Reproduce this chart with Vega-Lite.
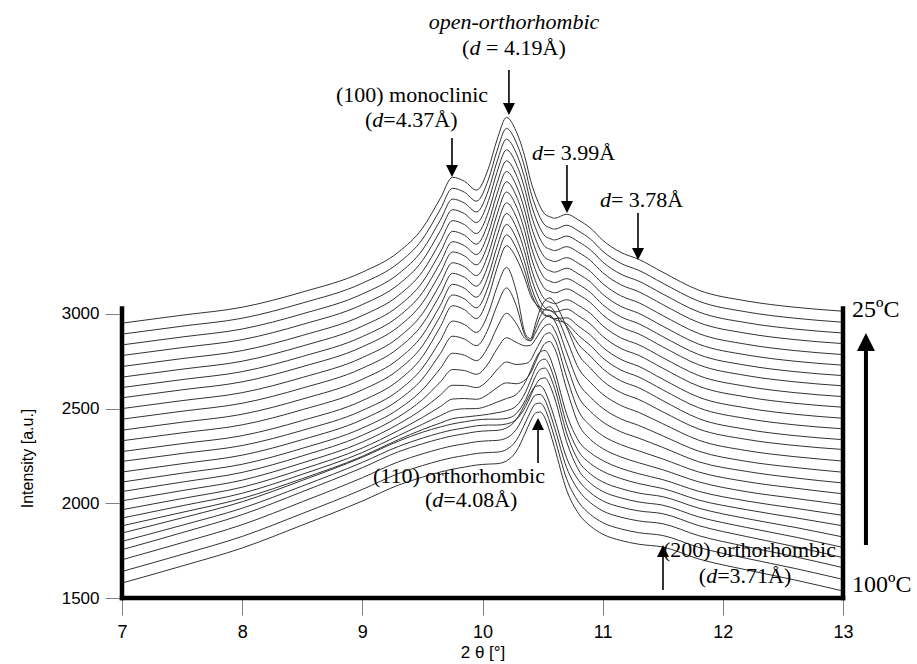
{
"$schema":"https://vega.github.io/schema/vega-lite/v6.json",
"width":721,"height":598,"autosize":"none",
"padding":{"left":122,"top":0,"right":74,"bottom":66},
"config":{"view":{"stroke":null},"font":"Liberation Serif"},
"datasets":{"curves":[
{"k":26,"x":7,"y":2951},{"k":26,"x":7.5,"y":2993},{"k":26,"x":8,"y":3035},{"k":26,"x":8.5,"y":3115},{"k":26,"x":9,"y":3220},{"k":26,"x":9.3,"y":3326},{"k":26,"x":9.5,"y":3452},{"k":26,"x":9.65,"y":3611},{"k":26,"x":9.75,"y":3721},{"k":26,"x":9.85,"y":3700},{"k":26,"x":9.95,"y":3653},{"k":26,"x":10.05,"y":3769},{"k":26,"x":10.12,"y":3917},{"k":26,"x":10.2,"y":4037},{"k":26,"x":10.28,"y":3964},{"k":26,"x":10.36,"y":3811},{"k":26,"x":10.4,"y":3705},{"k":26,"x":10.44,"y":3627},{"k":26,"x":10.48,"y":3566},{"k":26,"x":10.52,"y":3526},{"k":26,"x":10.56,"y":3513},{"k":26,"x":10.6,"y":3505},{"k":26,"x":10.7,"y":3526},{"k":26,"x":10.8,"y":3495},{"k":26,"x":10.9,"y":3452},{"k":26,"x":11,"y":3389},{"k":26,"x":11.15,"y":3325},{"k":26,"x":11.3,"y":3288},{"k":26,"x":11.5,"y":3220},{"k":26,"x":11.8,"y":3125},{"k":26,"x":12.2,"y":3068},{"k":26,"x":12.6,"y":3035},{"k":26,"x":13,"y":3014},
{"k":25,"x":7,"y":2893},{"k":25,"x":7.5,"y":2935},{"k":25,"x":8,"y":2977},{"k":25,"x":8.5,"y":3057},{"k":25,"x":9,"y":3162},{"k":25,"x":9.3,"y":3268},{"k":25,"x":9.5,"y":3394},{"k":25,"x":9.65,"y":3553},{"k":25,"x":9.75,"y":3663},{"k":25,"x":9.85,"y":3642},{"k":25,"x":9.95,"y":3595},{"k":25,"x":10.05,"y":3711},{"k":25,"x":10.12,"y":3859},{"k":25,"x":10.2,"y":3979},{"k":25,"x":10.28,"y":3906},{"k":25,"x":10.36,"y":3753},{"k":25,"x":10.4,"y":3647},{"k":25,"x":10.44,"y":3569},{"k":25,"x":10.48,"y":3508},{"k":25,"x":10.52,"y":3468},{"k":25,"x":10.56,"y":3455},{"k":25,"x":10.6,"y":3447},{"k":25,"x":10.7,"y":3468},{"k":25,"x":10.8,"y":3437},{"k":25,"x":10.9,"y":3394},{"k":25,"x":11,"y":3331},{"k":25,"x":11.15,"y":3267},{"k":25,"x":11.3,"y":3230},{"k":25,"x":11.5,"y":3162},{"k":25,"x":11.8,"y":3067},{"k":25,"x":12.2,"y":3010},{"k":25,"x":12.6,"y":2977},{"k":25,"x":13,"y":2956},
{"k":24,"x":7,"y":2836},{"k":24,"x":7.5,"y":2878},{"k":24,"x":8,"y":2920},{"k":24,"x":8.5,"y":3000},{"k":24,"x":9,"y":3105},{"k":24,"x":9.3,"y":3211},{"k":24,"x":9.5,"y":3337},{"k":24,"x":9.65,"y":3496},{"k":24,"x":9.75,"y":3606},{"k":24,"x":9.85,"y":3585},{"k":24,"x":9.95,"y":3538},{"k":24,"x":10.05,"y":3654},{"k":24,"x":10.12,"y":3802},{"k":24,"x":10.2,"y":3922},{"k":24,"x":10.28,"y":3849},{"k":24,"x":10.36,"y":3696},{"k":24,"x":10.4,"y":3590},{"k":24,"x":10.44,"y":3512},{"k":24,"x":10.48,"y":3451},{"k":24,"x":10.52,"y":3411},{"k":24,"x":10.56,"y":3398},{"k":24,"x":10.6,"y":3390},{"k":24,"x":10.7,"y":3411},{"k":24,"x":10.8,"y":3380},{"k":24,"x":10.9,"y":3337},{"k":24,"x":11,"y":3274},{"k":24,"x":11.15,"y":3210},{"k":24,"x":11.3,"y":3173},{"k":24,"x":11.5,"y":3105},{"k":24,"x":11.8,"y":3010},{"k":24,"x":12.2,"y":2953},{"k":24,"x":12.6,"y":2920},{"k":24,"x":13,"y":2899},
{"k":23,"x":7,"y":2780},{"k":23,"x":7.5,"y":2822},{"k":23,"x":8,"y":2864},{"k":23,"x":8.5,"y":2944},{"k":23,"x":9,"y":3049},{"k":23,"x":9.3,"y":3155},{"k":23,"x":9.5,"y":3281},{"k":23,"x":9.65,"y":3440},{"k":23,"x":9.75,"y":3550},{"k":23,"x":9.85,"y":3529},{"k":23,"x":9.95,"y":3482},{"k":23,"x":10.05,"y":3598},{"k":23,"x":10.12,"y":3746},{"k":23,"x":10.2,"y":3866},{"k":23,"x":10.28,"y":3793},{"k":23,"x":10.36,"y":3640},{"k":23,"x":10.4,"y":3534},{"k":23,"x":10.44,"y":3456},{"k":23,"x":10.48,"y":3395},{"k":23,"x":10.52,"y":3355},{"k":23,"x":10.56,"y":3342},{"k":23,"x":10.6,"y":3334},{"k":23,"x":10.7,"y":3355},{"k":23,"x":10.8,"y":3324},{"k":23,"x":10.9,"y":3281},{"k":23,"x":11,"y":3218},{"k":23,"x":11.15,"y":3154},{"k":23,"x":11.3,"y":3117},{"k":23,"x":11.5,"y":3049},{"k":23,"x":11.8,"y":2954},{"k":23,"x":12.2,"y":2897},{"k":23,"x":12.6,"y":2864},{"k":23,"x":13,"y":2843},
{"k":22,"x":7,"y":2722},{"k":22,"x":7.5,"y":2764},{"k":22,"x":8,"y":2806},{"k":22,"x":8.5,"y":2886},{"k":22,"x":9,"y":2991},{"k":22,"x":9.3,"y":3097},{"k":22,"x":9.5,"y":3223},{"k":22,"x":9.65,"y":3382},{"k":22,"x":9.75,"y":3492},{"k":22,"x":9.85,"y":3471},{"k":22,"x":9.95,"y":3424},{"k":22,"x":10.05,"y":3540},{"k":22,"x":10.12,"y":3688},{"k":22,"x":10.2,"y":3808},{"k":22,"x":10.28,"y":3735},{"k":22,"x":10.36,"y":3582},{"k":22,"x":10.4,"y":3476},{"k":22,"x":10.44,"y":3398},{"k":22,"x":10.48,"y":3337},{"k":22,"x":10.52,"y":3297},{"k":22,"x":10.56,"y":3284},{"k":22,"x":10.6,"y":3276},{"k":22,"x":10.7,"y":3297},{"k":22,"x":10.8,"y":3266},{"k":22,"x":10.9,"y":3223},{"k":22,"x":11,"y":3160},{"k":22,"x":11.15,"y":3096},{"k":22,"x":11.3,"y":3059},{"k":22,"x":11.5,"y":2991},{"k":22,"x":11.8,"y":2896},{"k":22,"x":12.2,"y":2839},{"k":22,"x":12.6,"y":2806},{"k":22,"x":13,"y":2785},
{"k":21,"x":7,"y":2666},{"k":21,"x":7.5,"y":2708},{"k":21,"x":8,"y":2750},{"k":21,"x":8.5,"y":2830},{"k":21,"x":9,"y":2935},{"k":21,"x":9.3,"y":3041},{"k":21,"x":9.5,"y":3167},{"k":21,"x":9.65,"y":3326},{"k":21,"x":9.75,"y":3436},{"k":21,"x":9.85,"y":3415},{"k":21,"x":9.95,"y":3368},{"k":21,"x":10.05,"y":3484},{"k":21,"x":10.12,"y":3632},{"k":21,"x":10.2,"y":3752},{"k":21,"x":10.28,"y":3679},{"k":21,"x":10.36,"y":3526},{"k":21,"x":10.4,"y":3420},{"k":21,"x":10.44,"y":3342},{"k":21,"x":10.48,"y":3281},{"k":21,"x":10.52,"y":3241},{"k":21,"x":10.56,"y":3228},{"k":21,"x":10.6,"y":3220},{"k":21,"x":10.7,"y":3241},{"k":21,"x":10.8,"y":3210},{"k":21,"x":10.9,"y":3167},{"k":21,"x":11,"y":3104},{"k":21,"x":11.15,"y":3040},{"k":21,"x":11.3,"y":3003},{"k":21,"x":11.5,"y":2935},{"k":21,"x":11.8,"y":2840},{"k":21,"x":12.2,"y":2783},{"k":21,"x":12.6,"y":2750},{"k":21,"x":13,"y":2729},
{"k":20,"x":7,"y":2611},{"k":20,"x":7.5,"y":2653},{"k":20,"x":8,"y":2695},{"k":20,"x":8.5,"y":2775},{"k":20,"x":9,"y":2880},{"k":20,"x":9.3,"y":2986},{"k":20,"x":9.5,"y":3112},{"k":20,"x":9.65,"y":3271},{"k":20,"x":9.75,"y":3381},{"k":20,"x":9.85,"y":3360},{"k":20,"x":9.95,"y":3313},{"k":20,"x":10.05,"y":3429},{"k":20,"x":10.12,"y":3577},{"k":20,"x":10.2,"y":3697},{"k":20,"x":10.28,"y":3624},{"k":20,"x":10.36,"y":3471},{"k":20,"x":10.4,"y":3365},{"k":20,"x":10.44,"y":3287},{"k":20,"x":10.48,"y":3226},{"k":20,"x":10.52,"y":3186},{"k":20,"x":10.56,"y":3173},{"k":20,"x":10.6,"y":3165},{"k":20,"x":10.7,"y":3186},{"k":20,"x":10.8,"y":3155},{"k":20,"x":10.9,"y":3112},{"k":20,"x":11,"y":3049},{"k":20,"x":11.15,"y":2985},{"k":20,"x":11.3,"y":2948},{"k":20,"x":11.5,"y":2880},{"k":20,"x":11.8,"y":2785},{"k":20,"x":12.2,"y":2728},{"k":20,"x":12.6,"y":2695},{"k":20,"x":13,"y":2674},
{"k":19,"x":7,"y":2557},{"k":19,"x":7.5,"y":2599},{"k":19,"x":8,"y":2641},{"k":19,"x":8.5,"y":2721},{"k":19,"x":9,"y":2826},{"k":19,"x":9.3,"y":2932},{"k":19,"x":9.5,"y":3058},{"k":19,"x":9.65,"y":3217},{"k":19,"x":9.75,"y":3327},{"k":19,"x":9.85,"y":3306},{"k":19,"x":9.95,"y":3259},{"k":19,"x":10.05,"y":3375},{"k":19,"x":10.12,"y":3523},{"k":19,"x":10.2,"y":3643},{"k":19,"x":10.28,"y":3570},{"k":19,"x":10.36,"y":3417},{"k":19,"x":10.4,"y":3311},{"k":19,"x":10.44,"y":3233},{"k":19,"x":10.48,"y":3172},{"k":19,"x":10.52,"y":3132},{"k":19,"x":10.56,"y":3119},{"k":19,"x":10.6,"y":3111},{"k":19,"x":10.7,"y":3132},{"k":19,"x":10.8,"y":3101},{"k":19,"x":10.9,"y":3058},{"k":19,"x":11,"y":2995},{"k":19,"x":11.15,"y":2931},{"k":19,"x":11.3,"y":2894},{"k":19,"x":11.5,"y":2826},{"k":19,"x":11.8,"y":2731},{"k":19,"x":12.2,"y":2674},{"k":19,"x":12.6,"y":2641},{"k":19,"x":13,"y":2620},
{"k":18,"x":7,"y":2500},{"k":18,"x":7.5,"y":2542},{"k":18,"x":8,"y":2584},{"k":18,"x":8.5,"y":2664},{"k":18,"x":9,"y":2769},{"k":18,"x":9.3,"y":2875},{"k":18,"x":9.5,"y":3001},{"k":18,"x":9.65,"y":3160},{"k":18,"x":9.75,"y":3270},{"k":18,"x":9.85,"y":3249},{"k":18,"x":9.95,"y":3202},{"k":18,"x":10.05,"y":3318},{"k":18,"x":10.12,"y":3466},{"k":18,"x":10.2,"y":3586},{"k":18,"x":10.28,"y":3513},{"k":18,"x":10.36,"y":3360},{"k":18,"x":10.4,"y":3254},{"k":18,"x":10.44,"y":3176},{"k":18,"x":10.48,"y":3115},{"k":18,"x":10.52,"y":3075},{"k":18,"x":10.56,"y":3062},{"k":18,"x":10.6,"y":3054},{"k":18,"x":10.7,"y":3075},{"k":18,"x":10.8,"y":3044},{"k":18,"x":10.9,"y":3001},{"k":18,"x":11,"y":2938},{"k":18,"x":11.15,"y":2874},{"k":18,"x":11.3,"y":2837},{"k":18,"x":11.5,"y":2769},{"k":18,"x":11.8,"y":2674},{"k":18,"x":12.2,"y":2617},{"k":18,"x":12.6,"y":2584},{"k":18,"x":13,"y":2563},
{"k":17,"x":7,"y":2444},{"k":17,"x":7.5,"y":2486},{"k":17,"x":8,"y":2528},{"k":17,"x":8.5,"y":2608},{"k":17,"x":9,"y":2713},{"k":17,"x":9.3,"y":2819},{"k":17,"x":9.5,"y":2945},{"k":17,"x":9.65,"y":3104},{"k":17,"x":9.75,"y":3214},{"k":17,"x":9.85,"y":3193},{"k":17,"x":9.95,"y":3146},{"k":17,"x":10.05,"y":3262},{"k":17,"x":10.12,"y":3410},{"k":17,"x":10.2,"y":3530},{"k":17,"x":10.28,"y":3458},{"k":17,"x":10.36,"y":3307},{"k":17,"x":10.4,"y":3203},{"k":17,"x":10.44,"y":3127},{"k":17,"x":10.48,"y":3069},{"k":17,"x":10.52,"y":3031},{"k":17,"x":10.56,"y":3018},{"k":17,"x":10.6,"y":3010},{"k":17,"x":10.7,"y":3025},{"k":17,"x":10.8,"y":2989},{"k":17,"x":10.9,"y":2945},{"k":17,"x":11,"y":2882},{"k":17,"x":11.15,"y":2818},{"k":17,"x":11.3,"y":2781},{"k":17,"x":11.5,"y":2713},{"k":17,"x":11.8,"y":2618},{"k":17,"x":12.2,"y":2561},{"k":17,"x":12.6,"y":2528},{"k":17,"x":13,"y":2507},
{"k":16,"x":7,"y":2386},{"k":16,"x":7.5,"y":2428},{"k":16,"x":8,"y":2470},{"k":16,"x":8.5,"y":2550},{"k":16,"x":9,"y":2655},{"k":16,"x":9.3,"y":2761},{"k":16,"x":9.5,"y":2887},{"k":16,"x":9.65,"y":3046},{"k":16,"x":9.75,"y":3156},{"k":16,"x":9.85,"y":3135},{"k":16,"x":9.95,"y":3088},{"k":16,"x":10.05,"y":3204},{"k":16,"x":10.12,"y":3352},{"k":16,"x":10.2,"y":3472},{"k":16,"x":10.28,"y":3401},{"k":16,"x":10.36,"y":3254},{"k":16,"x":10.4,"y":3154},{"k":16,"x":10.44,"y":3083},{"k":16,"x":10.48,"y":3030},{"k":16,"x":10.52,"y":2996},{"k":16,"x":10.56,"y":2985},{"k":16,"x":10.6,"y":2975},{"k":16,"x":10.7,"y":2979},{"k":16,"x":10.8,"y":2934},{"k":16,"x":10.9,"y":2887},{"k":16,"x":11,"y":2824},{"k":16,"x":11.15,"y":2760},{"k":16,"x":11.3,"y":2723},{"k":16,"x":11.5,"y":2655},{"k":16,"x":11.8,"y":2560},{"k":16,"x":12.2,"y":2503},{"k":16,"x":12.6,"y":2470},{"k":16,"x":13,"y":2449},
{"k":15,"x":7,"y":2330},{"k":15,"x":7.5,"y":2372},{"k":15,"x":8,"y":2414},{"k":15,"x":8.5,"y":2494},{"k":15,"x":9,"y":2599},{"k":15,"x":9.3,"y":2705},{"k":15,"x":9.5,"y":2831},{"k":15,"x":9.65,"y":2990},{"k":15,"x":9.75,"y":3100},{"k":15,"x":9.85,"y":3079},{"k":15,"x":9.95,"y":3032},{"k":15,"x":10.05,"y":3148},{"k":15,"x":10.12,"y":3296},{"k":15,"x":10.2,"y":3417},{"k":15,"x":10.28,"y":3348},{"k":15,"x":10.36,"y":3210},{"k":15,"x":10.4,"y":3119},{"k":15,"x":10.44,"y":3059},{"k":15,"x":10.48,"y":3017},{"k":15,"x":10.52,"y":2991},{"k":15,"x":10.56,"y":2984},{"k":15,"x":10.6,"y":2970},{"k":15,"x":10.7,"y":2949},{"k":15,"x":10.8,"y":2885},{"k":15,"x":10.9,"y":2832},{"k":15,"x":11,"y":2768},{"k":15,"x":11.15,"y":2704},{"k":15,"x":11.3,"y":2667},{"k":15,"x":11.5,"y":2599},{"k":15,"x":11.8,"y":2504},{"k":15,"x":12.2,"y":2447},{"k":15,"x":12.6,"y":2414},{"k":15,"x":13,"y":2393},
{"k":14,"x":7,"y":2273},{"k":14,"x":7.5,"y":2315},{"k":14,"x":8,"y":2357},{"k":14,"x":8.5,"y":2437},{"k":14,"x":9,"y":2542},{"k":14,"x":9.3,"y":2648},{"k":14,"x":9.5,"y":2774},{"k":14,"x":9.65,"y":2933},{"k":14,"x":9.75,"y":3043},{"k":14,"x":9.85,"y":3022},{"k":14,"x":9.95,"y":2975},{"k":14,"x":10.05,"y":3091},{"k":14,"x":10.12,"y":3239},{"k":14,"x":10.2,"y":3360},{"k":14,"x":10.28,"y":3296},{"k":14,"x":10.36,"y":3174},{"k":14,"x":10.4,"y":3097},{"k":14,"x":10.44,"y":3056},{"k":14,"x":10.48,"y":3032},{"k":14,"x":10.52,"y":3021},{"k":14,"x":10.56,"y":3019},{"k":14,"x":10.6,"y":3000},{"k":14,"x":10.7,"y":2936},{"k":14,"x":10.8,"y":2838},{"k":14,"x":10.9,"y":2776},{"k":14,"x":11,"y":2711},{"k":14,"x":11.15,"y":2647},{"k":14,"x":11.3,"y":2610},{"k":14,"x":11.5,"y":2542},{"k":14,"x":11.8,"y":2447},{"k":14,"x":12.2,"y":2390},{"k":14,"x":12.6,"y":2357},{"k":14,"x":13,"y":2336},
{"k":13,"x":7,"y":2221},{"k":13,"x":7.5,"y":2263},{"k":13,"x":8,"y":2305},{"k":13,"x":8.5,"y":2385},{"k":13,"x":9,"y":2490},{"k":13,"x":9.3,"y":2594},{"k":13,"x":9.5,"y":2714},{"k":13,"x":9.65,"y":2860},{"k":13,"x":9.75,"y":2962},{"k":13,"x":9.85,"y":2944},{"k":13,"x":9.95,"y":2902},{"k":13,"x":10.05,"y":3006},{"k":13,"x":10.12,"y":3140},{"k":13,"x":10.2,"y":3245},{"k":13,"x":10.28,"y":3123},{"k":13,"x":10.36,"y":2890},{"k":13,"x":10.4,"y":2869},{"k":13,"x":10.44,"y":2946},{"k":13,"x":10.48,"y":3025},{"k":13,"x":10.52,"y":3070},{"k":13,"x":10.56,"y":3084},{"k":13,"x":10.6,"y":3060},{"k":13,"x":10.7,"y":2930},{"k":13,"x":10.8,"y":2785},{"k":13,"x":10.9,"y":2712},{"k":13,"x":11,"y":2647},{"k":13,"x":11.15,"y":2585},{"k":13,"x":11.3,"y":2548},{"k":13,"x":11.5,"y":2483},{"k":13,"x":11.8,"y":2392},{"k":13,"x":12.2,"y":2337},{"k":13,"x":12.6,"y":2305},{"k":13,"x":13,"y":2284},
{"k":12,"x":7,"y":2165},{"k":12,"x":7.5,"y":2209},{"k":12,"x":8,"y":2254},{"k":12,"x":8.5,"y":2336},{"k":12,"x":9,"y":2442},{"k":12,"x":9.3,"y":2545},{"k":12,"x":9.5,"y":2657},{"k":12,"x":9.65,"y":2791},{"k":12,"x":9.75,"y":2882},{"k":12,"x":9.85,"y":2867},{"k":12,"x":9.95,"y":2832},{"k":12,"x":10.05,"y":2925},{"k":12,"x":10.12,"y":3043},{"k":12,"x":10.2,"y":3137},{"k":12,"x":10.28,"y":3045},{"k":12,"x":10.36,"y":2878},{"k":12,"x":10.4,"y":2860},{"k":12,"x":10.44,"y":2921},{"k":12,"x":10.48,"y":2985},{"k":12,"x":10.52,"y":3025},{"k":12,"x":10.56,"y":3038},{"k":12,"x":10.6,"y":3010},{"k":12,"x":10.7,"y":2865},{"k":12,"x":10.8,"y":2712},{"k":12,"x":10.9,"y":2637},{"k":12,"x":11,"y":2576},{"k":12,"x":11.15,"y":2517},{"k":12,"x":11.3,"y":2480},{"k":12,"x":11.5,"y":2420},{"k":12,"x":11.8,"y":2333},{"k":12,"x":12.2,"y":2278},{"k":12,"x":12.6,"y":2246},{"k":12,"x":13,"y":2223},
{"k":11,"x":7,"y":2112},{"k":11,"x":7.5,"y":2159},{"k":11,"x":8,"y":2206},{"k":11,"x":8.5,"y":2290},{"k":11,"x":9,"y":2397},{"k":11,"x":9.3,"y":2497},{"k":11,"x":9.5,"y":2599},{"k":11,"x":9.65,"y":2713},{"k":11,"x":9.75,"y":2792},{"k":11,"x":9.85,"y":2782},{"k":11,"x":9.95,"y":2753},{"k":11,"x":10.05,"y":2830},{"k":11,"x":10.12,"y":2926},{"k":11,"x":10.2,"y":3003},{"k":11,"x":10.28,"y":2950},{"k":11,"x":10.36,"y":2866},{"k":11,"x":10.4,"y":2858},{"k":11,"x":10.44,"y":2898},{"k":11,"x":10.48,"y":2948},{"k":11,"x":10.52,"y":2981},{"k":11,"x":10.56,"y":2993},{"k":11,"x":10.6,"y":2963},{"k":11,"x":10.7,"y":2798},{"k":11,"x":10.8,"y":2635},{"k":11,"x":10.9,"y":2559},{"k":11,"x":11,"y":2502},{"k":11,"x":11.15,"y":2446},{"k":11,"x":11.3,"y":2411},{"k":11,"x":11.5,"y":2356},{"k":11,"x":11.8,"y":2275},{"k":11,"x":12.2,"y":2221},{"k":11,"x":12.6,"y":2189},{"k":11,"x":13,"y":2164},
{"k":10,"x":7,"y":2062},{"k":10,"x":7.5,"y":2112},{"k":10,"x":8,"y":2163},{"k":10,"x":8.5,"y":2250},{"k":10,"x":9,"y":2359},{"k":10,"x":9.3,"y":2456},{"k":10,"x":9.5,"y":2547},{"k":10,"x":9.65,"y":2641},{"k":10,"x":9.75,"y":2706},{"k":10,"x":9.85,"y":2701},{"k":10,"x":9.95,"y":2681},{"k":10,"x":10.05,"y":2740},{"k":10,"x":10.12,"y":2814},{"k":10,"x":10.2,"y":2874},{"k":10,"x":10.28,"y":2850},{"k":10,"x":10.36,"y":2831},{"k":10,"x":10.4,"y":2834},{"k":10,"x":10.44,"y":2865},{"k":10,"x":10.48,"y":2905},{"k":10,"x":10.52,"y":2937},{"k":10,"x":10.56,"y":2946},{"k":10,"x":10.6,"y":2914},{"k":10,"x":10.7,"y":2733},{"k":10,"x":10.8,"y":2561},{"k":10,"x":10.9,"y":2484},{"k":10,"x":11,"y":2430},{"k":10,"x":11.15,"y":2378},{"k":10,"x":11.3,"y":2344},{"k":10,"x":11.5,"y":2295},{"k":10,"x":11.8,"y":2219},{"k":10,"x":12.2,"y":2168},{"k":10,"x":12.6,"y":2134},{"k":10,"x":13,"y":2107},
{"k":9,"x":7,"y":2013},{"k":9,"x":7.5,"y":2067},{"k":9,"x":8,"y":2122},{"k":9,"x":8.5,"y":2213},{"k":9,"x":9,"y":2323},{"k":9,"x":9.3,"y":2418},{"k":9,"x":9.5,"y":2497},{"k":9,"x":9.65,"y":2572},{"k":9,"x":9.75,"y":2623},{"k":9,"x":9.85,"y":2622},{"k":9,"x":9.95,"y":2611},{"k":9,"x":10.05,"y":2652},{"k":9,"x":10.12,"y":2704},{"k":9,"x":10.2,"y":2746},{"k":9,"x":10.28,"y":2733},{"k":9,"x":10.36,"y":2738},{"k":9,"x":10.4,"y":2755},{"k":9,"x":10.44,"y":2803},{"k":9,"x":10.48,"y":2851},{"k":9,"x":10.52,"y":2891},{"k":9,"x":10.56,"y":2900},{"k":9,"x":10.6,"y":2867},{"k":9,"x":10.7,"y":2667},{"k":9,"x":10.8,"y":2487},{"k":9,"x":10.9,"y":2408},{"k":9,"x":11,"y":2357},{"k":9,"x":11.15,"y":2310},{"k":9,"x":11.3,"y":2277},{"k":9,"x":11.5,"y":2234},{"k":9,"x":11.8,"y":2165},{"k":9,"x":12.2,"y":2114},{"k":9,"x":12.6,"y":2080},{"k":9,"x":13,"y":2050},
{"k":8,"x":7,"y":1966},{"k":8,"x":7.5,"y":2025},{"k":8,"x":8,"y":2085},{"k":8,"x":8.5,"y":2180},{"k":8,"x":9,"y":2292},{"k":8,"x":9.3,"y":2384},{"k":8,"x":9.5,"y":2453},{"k":8,"x":9.65,"y":2511},{"k":8,"x":9.75,"y":2550},{"k":8,"x":9.85,"y":2553},{"k":8,"x":9.95,"y":2549},{"k":8,"x":10.05,"y":2577},{"k":8,"x":10.12,"y":2610},{"k":8,"x":10.2,"y":2636},{"k":8,"x":10.28,"y":2631},{"k":8,"x":10.36,"y":2655},{"k":8,"x":10.4,"y":2688},{"k":8,"x":10.44,"y":2744},{"k":8,"x":10.48,"y":2801},{"k":8,"x":10.52,"y":2844},{"k":8,"x":10.56,"y":2854},{"k":8,"x":10.6,"y":2818},{"k":8,"x":10.7,"y":2604},{"k":8,"x":10.8,"y":2417},{"k":8,"x":10.9,"y":2336},{"k":8,"x":11,"y":2289},{"k":8,"x":11.15,"y":2245},{"k":8,"x":11.3,"y":2214},{"k":8,"x":11.5,"y":2177},{"k":8,"x":11.8,"y":2113},{"k":8,"x":12.2,"y":2061},{"k":8,"x":12.6,"y":2026},{"k":8,"x":13,"y":1992},
{"k":7,"x":7,"y":1922},{"k":7,"x":7.5,"y":1987},{"k":7,"x":8,"y":2053},{"k":7,"x":8.5,"y":2153},{"k":7,"x":9,"y":2268},{"k":7,"x":9.3,"y":2357},{"k":7,"x":9.5,"y":2417},{"k":7,"x":9.65,"y":2463},{"k":7,"x":9.75,"y":2491},{"k":7,"x":9.85,"y":2499},{"k":7,"x":9.95,"y":2500},{"k":7,"x":10.05,"y":2516},{"k":7,"x":10.12,"y":2534},{"k":7,"x":10.2,"y":2553},{"k":7,"x":10.28,"y":2574},{"k":7,"x":10.36,"y":2644},{"k":7,"x":10.4,"y":2699},{"k":7,"x":10.44,"y":2759},{"k":7,"x":10.48,"y":2799},{"k":7,"x":10.52,"y":2807},{"k":7,"x":10.56,"y":2771},{"k":7,"x":10.6,"y":2699},{"k":7,"x":10.7,"y":2471},{"k":7,"x":10.8,"y":2329},{"k":7,"x":10.9,"y":2266},{"k":7,"x":11,"y":2226},{"k":7,"x":11.15,"y":2185},{"k":7,"x":11.3,"y":2156},{"k":7,"x":11.5,"y":2125},{"k":7,"x":11.8,"y":2063},{"k":7,"x":12.2,"y":2012},{"k":7,"x":12.6,"y":1974},{"k":7,"x":13,"y":1936},
{"k":6,"x":7,"y":1881},{"k":6,"x":7.5,"y":1952},{"k":6,"x":8,"y":2026},{"k":6,"x":8.5,"y":2130},{"k":6,"x":9,"y":2248},{"k":6,"x":9.3,"y":2336},{"k":6,"x":9.5,"y":2389},{"k":6,"x":9.65,"y":2424},{"k":6,"x":9.75,"y":2447},{"k":6,"x":9.85,"y":2455},{"k":6,"x":9.95,"y":2462},{"k":6,"x":10.05,"y":2470},{"k":6,"x":10.12,"y":2478},{"k":6,"x":10.2,"y":2489},{"k":6,"x":10.28,"y":2513},{"k":6,"x":10.36,"y":2589},{"k":6,"x":10.4,"y":2649},{"k":6,"x":10.44,"y":2710},{"k":6,"x":10.48,"y":2752},{"k":6,"x":10.52,"y":2761},{"k":6,"x":10.56,"y":2724},{"k":6,"x":10.6,"y":2653},{"k":6,"x":10.7,"y":2419},{"k":6,"x":10.8,"y":2274},{"k":6,"x":10.9,"y":2209},{"k":6,"x":11,"y":2169},{"k":6,"x":11.15,"y":2131},{"k":6,"x":11.3,"y":2104},{"k":6,"x":11.5,"y":2078},{"k":6,"x":11.8,"y":2017},{"k":6,"x":12.2,"y":1966},{"k":6,"x":12.6,"y":1924},{"k":6,"x":13,"y":1881},
{"k":5,"x":7,"y":1843},{"k":5,"x":7.5,"y":1923},{"k":5,"x":8,"y":2008},{"k":5,"x":8.5,"y":2121},{"k":5,"x":9,"y":2243},{"k":5,"x":9.3,"y":2328},{"k":5,"x":9.5,"y":2375},{"k":5,"x":9.65,"y":2403},{"k":5,"x":9.75,"y":2419},{"k":5,"x":9.85,"y":2430},{"k":5,"x":9.95,"y":2440},{"k":5,"x":10.05,"y":2444},{"k":5,"x":10.12,"y":2444},{"k":5,"x":10.2,"y":2448},{"k":5,"x":10.28,"y":2473},{"k":5,"x":10.36,"y":2549},{"k":5,"x":10.4,"y":2608},{"k":5,"x":10.44,"y":2668},{"k":5,"x":10.48,"y":2707},{"k":5,"x":10.52,"y":2714},{"k":5,"x":10.56,"y":2676},{"k":5,"x":10.6,"y":2607},{"k":5,"x":10.7,"y":2371},{"k":5,"x":10.8,"y":2223},{"k":5,"x":10.9,"y":2154},{"k":5,"x":11,"y":2113},{"k":5,"x":11.15,"y":2078},{"k":5,"x":11.3,"y":2054},{"k":5,"x":11.5,"y":2035},{"k":5,"x":11.8,"y":1974},{"k":5,"x":12.2,"y":1919},{"k":5,"x":12.6,"y":1873},{"k":5,"x":13,"y":1822},
{"k":4,"x":7,"y":1799},{"k":4,"x":7.5,"y":1884},{"k":4,"x":8,"y":1974},{"k":4,"x":8.5,"y":2091},{"k":4,"x":9,"y":2216},{"k":4,"x":9.3,"y":2300},{"k":4,"x":9.5,"y":2344},{"k":4,"x":9.65,"y":2372},{"k":4,"x":9.75,"y":2387},{"k":4,"x":9.85,"y":2398},{"k":4,"x":9.95,"y":2409},{"k":4,"x":10.05,"y":2413},{"k":4,"x":10.12,"y":2413},{"k":4,"x":10.2,"y":2419},{"k":4,"x":10.28,"y":2442},{"k":4,"x":10.36,"y":2512},{"k":4,"x":10.4,"y":2567},{"k":4,"x":10.44,"y":2621},{"k":4,"x":10.48,"y":2656},{"k":4,"x":10.52,"y":2662},{"k":4,"x":10.56,"y":2624},{"k":4,"x":10.6,"y":2556},{"k":4,"x":10.7,"y":2325},{"k":4,"x":10.8,"y":2176},{"k":4,"x":10.9,"y":2105},{"k":4,"x":11,"y":2063},{"k":4,"x":11.15,"y":2029},{"k":4,"x":11.3,"y":2007},{"k":4,"x":11.5,"y":1990},{"k":4,"x":11.8,"y":1928},{"k":4,"x":12.2,"y":1872},{"k":4,"x":12.6,"y":1822},{"k":4,"x":13,"y":1767},
{"k":3,"x":7,"y":1755},{"k":3,"x":7.5,"y":1845},{"k":3,"x":8,"y":1940},{"k":3,"x":8.5,"y":2061},{"k":3,"x":9,"y":2188},{"k":3,"x":9.3,"y":2272},{"k":3,"x":9.5,"y":2314},{"k":3,"x":9.65,"y":2341},{"k":3,"x":9.75,"y":2356},{"k":3,"x":9.85,"y":2367},{"k":3,"x":9.95,"y":2378},{"k":3,"x":10.05,"y":2383},{"k":3,"x":10.12,"y":2385},{"k":3,"x":10.2,"y":2398},{"k":3,"x":10.28,"y":2441},{"k":3,"x":10.36,"y":2532},{"k":3,"x":10.4,"y":2581},{"k":3,"x":10.44,"y":2617},{"k":3,"x":10.48,"y":2621},{"k":3,"x":10.52,"y":2591},{"k":3,"x":10.56,"y":2526},{"k":3,"x":10.6,"y":2448},{"k":3,"x":10.7,"y":2240},{"k":3,"x":10.8,"y":2121},{"k":3,"x":10.9,"y":2055},{"k":3,"x":11,"y":2013},{"k":3,"x":11.15,"y":1980},{"k":3,"x":11.3,"y":1960},{"k":3,"x":11.5,"y":1945},{"k":3,"x":11.8,"y":1882},{"k":3,"x":12.2,"y":1824},{"k":3,"x":12.6,"y":1771},{"k":3,"x":13,"y":1713},
{"k":2,"x":7,"y":1702},{"k":2,"x":7.5,"y":1792},{"k":2,"x":8,"y":1887},{"k":2,"x":8.5,"y":2008},{"k":2,"x":9,"y":2135},{"k":2,"x":9.3,"y":2219},{"k":2,"x":9.5,"y":2261},{"k":2,"x":9.65,"y":2288},{"k":2,"x":9.75,"y":2303},{"k":2,"x":9.85,"y":2314},{"k":2,"x":9.95,"y":2325},{"k":2,"x":10.05,"y":2330},{"k":2,"x":10.12,"y":2332},{"k":2,"x":10.2,"y":2345},{"k":2,"x":10.28,"y":2389},{"k":2,"x":10.36,"y":2483},{"k":2,"x":10.4,"y":2534},{"k":2,"x":10.44,"y":2571},{"k":2,"x":10.48,"y":2575},{"k":2,"x":10.52,"y":2545},{"k":2,"x":10.56,"y":2479},{"k":2,"x":10.6,"y":2399},{"k":2,"x":10.7,"y":2188},{"k":2,"x":10.8,"y":2068},{"k":2,"x":10.9,"y":2002},{"k":2,"x":11,"y":1960},{"k":2,"x":11.15,"y":1927},{"k":2,"x":11.3,"y":1907},{"k":2,"x":11.5,"y":1892},{"k":2,"x":11.8,"y":1829},{"k":2,"x":12.2,"y":1771},{"k":2,"x":12.6,"y":1718},{"k":2,"x":13,"y":1660},
{"k":1,"x":7,"y":1640},{"k":1,"x":7.5,"y":1730},{"k":1,"x":8,"y":1825},{"k":1,"x":8.5,"y":1946},{"k":1,"x":9,"y":2073},{"k":1,"x":9.3,"y":2157},{"k":1,"x":9.5,"y":2199},{"k":1,"x":9.65,"y":2226},{"k":1,"x":9.75,"y":2241},{"k":1,"x":9.85,"y":2252},{"k":1,"x":9.95,"y":2263},{"k":1,"x":10.05,"y":2268},{"k":1,"x":10.12,"y":2270},{"k":1,"x":10.2,"y":2284},{"k":1,"x":10.28,"y":2331},{"k":1,"x":10.36,"y":2430},{"k":1,"x":10.4,"y":2484},{"k":1,"x":10.44,"y":2524},{"k":1,"x":10.48,"y":2529},{"k":1,"x":10.52,"y":2498},{"k":1,"x":10.56,"y":2429},{"k":1,"x":10.6,"y":2346},{"k":1,"x":10.7,"y":2129},{"k":1,"x":10.8,"y":2006},{"k":1,"x":10.9,"y":1940},{"k":1,"x":11,"y":1898},{"k":1,"x":11.15,"y":1865},{"k":1,"x":11.3,"y":1845},{"k":1,"x":11.5,"y":1830},{"k":1,"x":11.8,"y":1767},{"k":1,"x":12.2,"y":1709},{"k":1,"x":12.6,"y":1656},{"k":1,"x":13,"y":1598},
{"k":0,"x":7,"y":1579},{"k":0,"x":7.5,"y":1669},{"k":0,"x":8,"y":1764},{"k":0,"x":8.5,"y":1885},{"k":0,"x":9,"y":2012},{"k":0,"x":9.3,"y":2096},{"k":0,"x":9.5,"y":2138},{"k":0,"x":9.65,"y":2165},{"k":0,"x":9.75,"y":2180},{"k":0,"x":9.85,"y":2191},{"k":0,"x":9.95,"y":2202},{"k":0,"x":10.05,"y":2207},{"k":0,"x":10.12,"y":2209},{"k":0,"x":10.2,"y":2224},{"k":0,"x":10.28,"y":2273},{"k":0,"x":10.36,"y":2377},{"k":0,"x":10.4,"y":2434},{"k":0,"x":10.44,"y":2476},{"k":0,"x":10.48,"y":2482},{"k":0,"x":10.52,"y":2450},{"k":0,"x":10.56,"y":2379},{"k":0,"x":10.6,"y":2293},{"k":0,"x":10.7,"y":2070},{"k":0,"x":10.8,"y":1945},{"k":0,"x":10.9,"y":1879},{"k":0,"x":11,"y":1837},{"k":0,"x":11.15,"y":1804},{"k":0,"x":11.3,"y":1784},{"k":0,"x":11.5,"y":1769},{"k":0,"x":11.8,"y":1706},{"k":0,"x":12.2,"y":1648},{"k":0,"x":12.6,"y":1595},{"k":0,"x":13,"y":1537}
]},
"layer":[
{"data":{"name":"curves"},
 "mark":{"type":"line","interpolate":"monotone","color":"#333333","strokeWidth":1},
 "encoding":{
  "x":{"field":"x","type":"quantitative","scale":{"domain":[7,13],"nice":false,"zero":false},
   "axis":{"values":[7,8,9,10,11,12,13],"format":"d","title":"2 θ [°]","domain":false,"grid":false,"tickSize":17,"tickColor":"#808080","tickWidth":1,"labelFont":"Liberation Sans","labelFontSize":18,"labelColor":"black","labelPadding":8,"labelFlush":false,"titleFont":"Liberation Sans","titleFontSize":17,"titleFontWeight":"normal","titleColor":"black","titlePadding":3}},
  "y":{"field":"y","type":"quantitative","scale":{"domain":[1500,4657],"nice":false,"zero":false},
   "axis":{"values":[1500,2000,2500,3000],"format":"d","title":"Intensity [a.u.]","domain":false,"grid":false,"offset":3,"tickSize":14,"tickColor":"#808080","tickWidth":1,"labelFont":"Liberation Sans","labelFontSize":17,"labelColor":"black","labelPadding":6,"labelFlush":false,"titleFont":"Liberation Sans","titleFontSize":16,"titleFontWeight":"normal","titleColor":"black","titleX":-92,"titleY":458,"titleAngle":-90,"titleAlign":"center","titleBaseline":"middle"}},
  "detail":{"field":"k","type":"nominal"}}},
{"data":{"values":[{}]},"mark":{"type":"rule","strokeWidth":4.5,"color":"black","strokeCap":"square"},"encoding":{"x":{"datum":7},"y":{"datum":1500},"y2":{"datum":3028}}},
{"data":{"values":[{}]},"mark":{"type":"rule","strokeWidth":4.5,"color":"black","strokeCap":"square"},"encoding":{"x":{"datum":13},"y":{"datum":1500},"y2":{"datum":3028}}},
{"data":{"values":[{}]},"mark":{"type":"rule","strokeWidth":4.5,"color":"black","strokeCap":"square"},"encoding":{"x":{"datum":7},"x2":{"datum":13},"y":{"datum":1500}}},
{"data":{"values":[{}]},"mark":{"type":"rule","strokeWidth":1.6,"color":"black"},"encoding":{"x":{"datum":10.22},"y":{"datum":4287},"y2":{"datum":4100}}},
{"data":{"values":[{}]},"mark":{"type":"rule","strokeWidth":1.6,"color":"black"},"encoding":{"x":{"datum":9.746},"y":{"datum":3928},"y2":{"datum":3775}}},
{"data":{"values":[{}]},"mark":{"type":"rule","strokeWidth":1.6,"color":"black"},"encoding":{"x":{"datum":10.703},"y":{"datum":3786},"y2":{"datum":3585}}},
{"data":{"values":[{}]},"mark":{"type":"rule","strokeWidth":1.6,"color":"black"},"encoding":{"x":{"datum":11.294},"y":{"datum":3532},"y2":{"datum":3335}}},
{"data":{"values":[{}]},"mark":{"type":"rule","strokeWidth":1.6,"color":"black"},"encoding":{"x":{"datum":10.462},"y":{"datum":2213},"y2":{"datum":2395}}},
{"data":{"values":[{}]},"mark":{"type":"rule","strokeWidth":1.6,"color":"black"},"encoding":{"x":{"datum":11.502},"y":{"datum":1542},"y2":{"datum":1725}}},
{"data":{"values":[{}]},"mark":{"type":"rule","strokeWidth":4,"color":"black"},"encoding":{"x":{"datum":13.191},"y":{"datum":1780},"y2":{"datum":2810}}},
{"data":{"values":[{}]},"mark":{"type":"point","shape":"M-1,-1L1,-1L0,1Z","size":144,"filled":true,"opacity":1,"color":"black"},"encoding":{"x":{"datum":10.22},"y":{"datum":4081}}},
{"data":{"values":[{}]},"mark":{"type":"point","shape":"M-1,-1L1,-1L0,1Z","size":144,"filled":true,"opacity":1,"color":"black"},"encoding":{"x":{"datum":9.746},"y":{"datum":3754}}},
{"data":{"values":[{}]},"mark":{"type":"point","shape":"M-1,-1L1,-1L0,1Z","size":144,"filled":true,"opacity":1,"color":"black"},"encoding":{"x":{"datum":10.703},"y":{"datum":3564}}},
{"data":{"values":[{}]},"mark":{"type":"point","shape":"M-1,-1L1,-1L0,1Z","size":144,"filled":true,"opacity":1,"color":"black"},"encoding":{"x":{"datum":11.294},"y":{"datum":3316}}},
{"data":{"values":[{}]},"mark":{"type":"point","shape":"M-1,1L1,1L0,-1Z","size":144,"filled":true,"opacity":1,"color":"black"},"encoding":{"x":{"datum":10.462},"y":{"datum":2419}}},
{"data":{"values":[{}]},"mark":{"type":"point","shape":"M-1,1L1,1L0,-1Z","size":144,"filled":true,"opacity":1,"color":"black"},"encoding":{"x":{"datum":11.502},"y":{"datum":1748}}},
{"data":{"values":[{}]},"mark":{"type":"point","shape":"M-1,1L1,1L0,-1Z","size":324,"filled":true,"opacity":1,"color":"black"},"encoding":{"x":{"datum":13.191},"y":{"datum":2851}}},
{"data":{"values":[{}]},"mark":{"type":"text","text":"open-orthorhombic","font":"Liberation Serif","fontStyle":"italic","fontSize":22,"align":"center","baseline":"middle"},"encoding":{"x":{"datum":10.262},"y":{"datum":4541}}},
{"data":{"values":[{}]},"mark":{"type":"text","text":"(","font":"Liberation Serif","fontSize":22,"align":"left","baseline":"middle"},"encoding":{"x":{"datum":9.829},"y":{"datum":4403}}},
{"data":{"values":[{}]},"mark":{"type":"text","text":"d","font":"Liberation Serif","fontStyle":"italic","fontSize":22,"align":"left","baseline":"middle"},"encoding":{"x":{"datum":9.892},"y":{"datum":4403}}},
{"data":{"values":[{}]},"mark":{"type":"text","text":"= 4.19Å)","font":"Liberation Serif","fontSize":22,"align":"left","baseline":"middle"},"encoding":{"x":{"datum":10.03},"y":{"datum":4403}}},
{"data":{"values":[{}]},"mark":{"type":"text","text":"(100)  monoclinic","font":"Liberation Serif","fontSize":22,"align":"center","baseline":"middle"},"encoding":{"x":{"datum":9.413},"y":{"datum":4155}}},
{"data":{"values":[{}]},"mark":{"type":"text","text":"(","font":"Liberation Serif","fontSize":22,"align":"left","baseline":"middle"},"encoding":{"x":{"datum":9.022},"y":{"datum":4023}}},
{"data":{"values":[{}]},"mark":{"type":"text","text":"d","font":"Liberation Serif","fontStyle":"italic","fontSize":22,"align":"left","baseline":"middle"},"encoding":{"x":{"datum":9.083},"y":{"datum":4023}}},
{"data":{"values":[{}]},"mark":{"type":"text","text":"=4.37Å)","font":"Liberation Serif","fontSize":22,"align":"left","baseline":"middle"},"encoding":{"x":{"datum":9.175},"y":{"datum":4023}}},
{"data":{"values":[{}]},"mark":{"type":"text","text":"d","font":"Liberation Serif","fontStyle":"italic","fontSize":22,"align":"left","baseline":"middle"},"encoding":{"x":{"datum":10.412},"y":{"datum":3849}}},
{"data":{"values":[{}]},"mark":{"type":"text","text":"= 3.99Å","font":"Liberation Serif","fontSize":22,"align":"left","baseline":"middle"},"encoding":{"x":{"datum":10.503},"y":{"datum":3849}}},
{"data":{"values":[{}]},"mark":{"type":"text","text":"d","font":"Liberation Serif","fontStyle":"italic","fontSize":22,"align":"left","baseline":"middle"},"encoding":{"x":{"datum":10.978},"y":{"datum":3601}}},
{"data":{"values":[{}]},"mark":{"type":"text","text":"= 3.78Å","font":"Liberation Serif","fontSize":22,"align":"left","baseline":"middle"},"encoding":{"x":{"datum":11.069},"y":{"datum":3601}}},
{"data":{"values":[{}]},"mark":{"type":"text","text":"(110) orthorhombic","font":"Liberation Serif","fontSize":22,"align":"right","baseline":"middle"},"encoding":{"x":{"datum":10.52},"y":{"datum":2144}}},
{"data":{"values":[{}]},"mark":{"type":"text","text":"(","font":"Liberation Serif","fontSize":22,"align":"left","baseline":"middle"},"encoding":{"x":{"datum":9.521},"y":{"datum":2017}}},
{"data":{"values":[{}]},"mark":{"type":"text","text":"d","font":"Liberation Serif","fontStyle":"italic","fontSize":22,"align":"left","baseline":"middle"},"encoding":{"x":{"datum":9.582},"y":{"datum":2017}}},
{"data":{"values":[{}]},"mark":{"type":"text","text":"=4.08Å)","font":"Liberation Serif","fontSize":22,"align":"left","baseline":"middle"},"encoding":{"x":{"datum":9.674},"y":{"datum":2017}}},
{"data":{"values":[{}]},"mark":{"type":"text","text":"(200) orthorhombic","font":"Liberation Serif","fontSize":22,"align":"left","baseline":"middle"},"encoding":{"x":{"datum":11.502},"y":{"datum":1755}}},
{"data":{"values":[{}]},"mark":{"type":"text","text":"(","font":"Liberation Serif","fontSize":22,"align":"left","baseline":"middle"},"encoding":{"x":{"datum":11.8},"y":{"datum":1618}}},
{"data":{"values":[{}]},"mark":{"type":"text","text":"d","font":"Liberation Serif","fontStyle":"italic","fontSize":22,"align":"left","baseline":"middle"},"encoding":{"x":{"datum":11.861},"y":{"datum":1618}}},
{"data":{"values":[{}]},"mark":{"type":"text","text":"=3.71Å)","font":"Liberation Serif","fontSize":22,"align":"left","baseline":"middle"},"encoding":{"x":{"datum":11.953},"y":{"datum":1618}}},
{"data":{"values":[{}]},"mark":{"type":"text","text":"25ºC","font":"Liberation Serif","fontSize":24,"align":"left","baseline":"middle"},"encoding":{"x":{"datum":13.075},"y":{"datum":3020}}},
{"data":{"values":[{}]},"mark":{"type":"text","text":"100ºC","font":"Liberation Serif","fontSize":24,"align":"left","baseline":"middle"},"encoding":{"x":{"datum":13.075},"y":{"datum":1570}}}
]
}
